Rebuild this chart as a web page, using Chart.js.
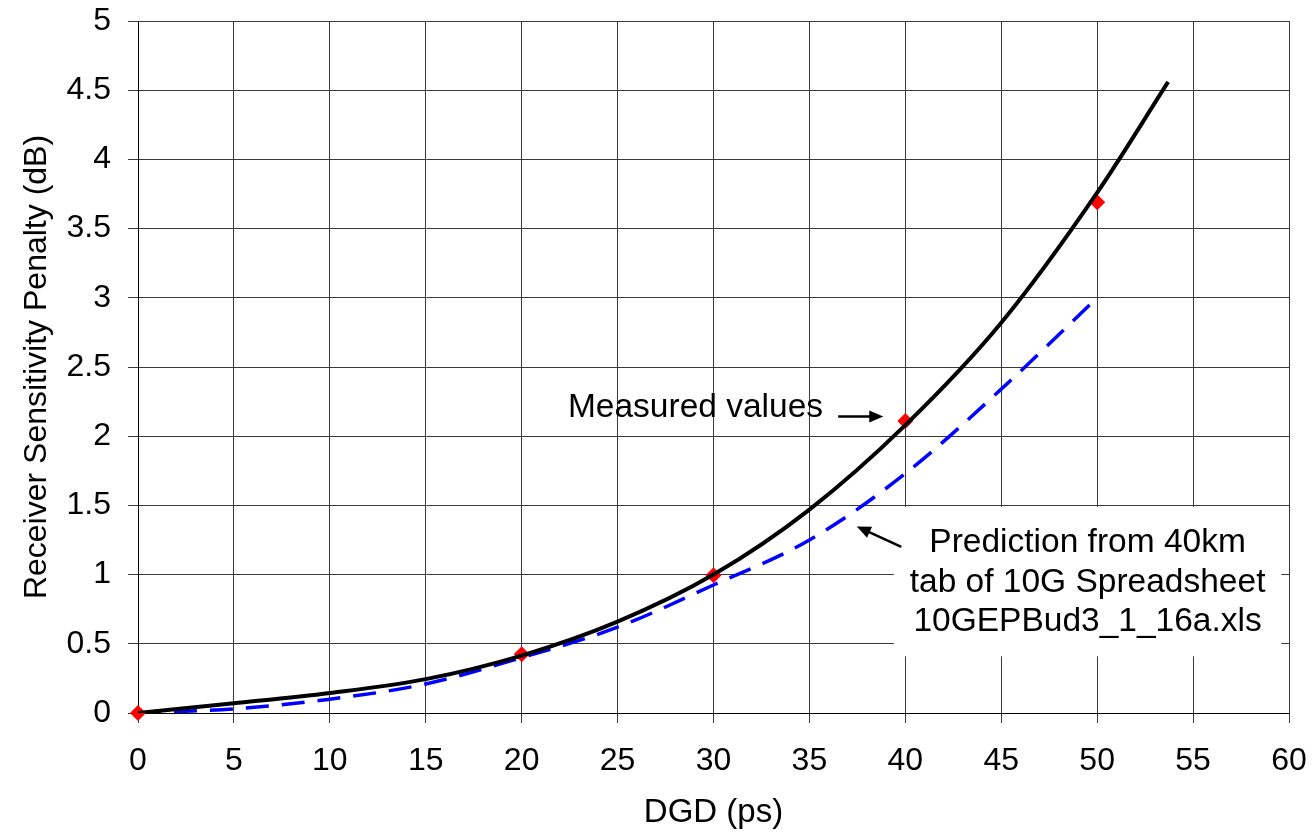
<!DOCTYPE html>
<html>
<head>
<meta charset="utf-8">
<title>DGD penalty</title>
<script src="https://cdn.jsdelivr.net/npm/chart.js@4.4.1/dist/chart.umd.min.js"></script>
<style>
  html, body { margin: 0; padding: 0; background: #fff; }
  #wrap { width: 1315px; height: 836px; }
</style>
</head>
<body>
<div id="wrap"><canvas id="c" width="1315" height="836"></canvas></div>
<script>
// Fitted curve (black, solid)
const fitX = [0, 5, 10, 15, 20, 25, 30, 35, 40, 45, 50, 53.7];
const fitY = [0, 0.07, 0.145, 0.245, 0.415, 0.66, 1.0, 1.47, 2.08, 2.82, 3.76, 4.56];

// Prediction from the spreadsheet (blue, dashed)
const predX = [0, 5, 10, 15, 20, 25, 30, 35, 40, 45, 50];
const predY = [0, 0.03, 0.1, 0.21, 0.40, 0.62, 0.925, 1.25, 1.73, 2.34, 3.0];

// Measured values (red diamonds)
const measX = [0, 20, 30, 40, 50];
const measY = [0, 0.425, 0.995, 2.11, 3.69];

const xTitle = "DGD (ps)";
const yTitle = "Receiver Sensitivity Penalty (dB)";
const noteMeasured = "Measured values";
const notePrediction = ["Prediction from 40km", "tab of 10G Spreadsheet", "10GEPBud3_1_16a.xls"];

const FONT = "'Liberation Sans', Arial, sans-serif";
Chart.defaults.font.family = FONT;
Chart.defaults.font.size = 32;
Chart.defaults.color = "#000";

function pts(xs, ys) {
  return xs.map((x, i) => ({ x: x, y: ys[i] }));
}

function arrow(ctx, x1, y1, x2, y2) {
  const a = Math.atan2(y2 - y1, x2 - x1);
  const len = 14, half = 6;
  ctx.beginPath();
  ctx.moveTo(x1, y1);
  ctx.lineTo(x2 - Math.cos(a) * len * 0.8, y2 - Math.sin(a) * len * 0.8);
  ctx.stroke();
  ctx.beginPath();
  ctx.moveTo(x2, y2);
  ctx.lineTo(x2 - Math.cos(a) * len - Math.sin(a) * half, y2 - Math.sin(a) * len + Math.cos(a) * half);
  ctx.lineTo(x2 - Math.cos(a) * len + Math.sin(a) * half, y2 - Math.sin(a) * len - Math.cos(a) * half);
  ctx.closePath();
  ctx.fill();
}

// no automatic room for overhanging tick labels, layout padding decides
function noOverhang(s) {
  s.paddingTop = 0; s.paddingBottom = 0; s.paddingLeft = 0; s.paddingRight = 0;
}

// text boxes and arrows, placed in data units
const notes = {
  id: "notes",
  beforeDatasetsDraw(chart) {
    const { ctx, scales: { x, y } } = chart;
    ctx.save();
    // white box behind the prediction note
    const bx1 = x.getPixelForValue(39.4), bx2 = x.getPixelForValue(59.6);
    const by1 = y.getPixelForValue(1.49), by2 = y.getPixelForValue(0.41);
    ctx.fillStyle = "#fff";
    ctx.fillRect(bx1, by1, bx2 - bx1, by2 - by1);
    ctx.restore();
  },
  afterDatasetsDraw(chart) {
    const { ctx, scales: { x, y } } = chart;
    ctx.save();
    ctx.font = "33.5px " + FONT;
    ctx.fillStyle = "#000";
    ctx.strokeStyle = "#000";
    ctx.lineWidth = 2.5;
    ctx.textBaseline = "middle";

    ctx.textAlign = "right";
    ctx.fillText(noteMeasured, x.getPixelForValue(35.71), y.getPixelForValue(2.204));
    arrow(ctx, x.getPixelForValue(36.5), y.getPixelForValue(2.143),
               x.getPixelForValue(38.85), y.getPixelForValue(2.143));

    ctx.textAlign = "center";
    const lineY = [1.228, 0.941, 0.662];
    notePrediction.forEach((t, i) => {
      ctx.fillText(t, x.getPixelForValue(49.5), y.getPixelForValue(lineY[i]));
    });
    arrow(ctx, x.getPixelForValue(39.79), y.getPixelForValue(1.2),
               x.getPixelForValue(37.47), y.getPixelForValue(1.348));
    ctx.restore();
  }
};

new Chart(document.getElementById("c"), {
  type: "scatter",
  data: {
    datasets: [
      {
        label: "Fit",
        data: pts(fitX, fitY),
        showLine: true,
        borderColor: "#000",
        borderWidth: 4,
        pointRadius: 0,
        cubicInterpolationMode: "monotone",
        order: 1
      },
      {
        label: "Prediction",
        data: pts(predX, predY),
        showLine: true,
        borderColor: "#0000ff",
        borderWidth: 3.5,
        borderDash: [23, 13],
        pointRadius: 0,
        cubicInterpolationMode: "monotone",
        order: 2
      },
      {
        label: "Measured values",
        data: pts(measX, measY),
        showLine: false,
        pointStyle: "rectRot",
        pointRadius: 8,
        pointBackgroundColor: "#ff0000",
        pointBorderWidth: 0,
        clip: false,
        order: 3
      }
    ]
  },
  options: {
    responsive: false,
    animation: false,
    layout: { padding: { top: 21, right: 26, bottom: 0, left: 0 } },
    plugins: { legend: { display: false }, tooltip: { enabled: false } },
    scales: {
      x: {
        type: "linear",
        min: 0, max: 60,
        ticks: { stepSize: 5, padding: 19, maxRotation: 0 },
        grid: { color: "#3a3a3a", lineWidth: 1, tickLength: 10 },
        border: { color: "#000", width: 1 },
        title: { display: true, text: xTitle, font: { size: 33 }, padding: { top: 0, bottom: 3 } },
        afterFit(s) { s.height = 123; noOverhang(s); }
      },
      y: {
        type: "linear",
        min: 0, max: 5,
        ticks: { stepSize: 0.5, padding: 17, callback: v => String(v) },
        grid: { color: "#3a3a3a", lineWidth: 1, tickLength: 10 },
        border: { color: "#000", width: 1 },
        title: { display: true, text: yTitle, padding: { top: 18, bottom: 0 } },
        afterFit(s) { s.width = 138; noOverhang(s); }
      }
    }
  },
  plugins: [notes]
});
</script>
</body>
</html>
